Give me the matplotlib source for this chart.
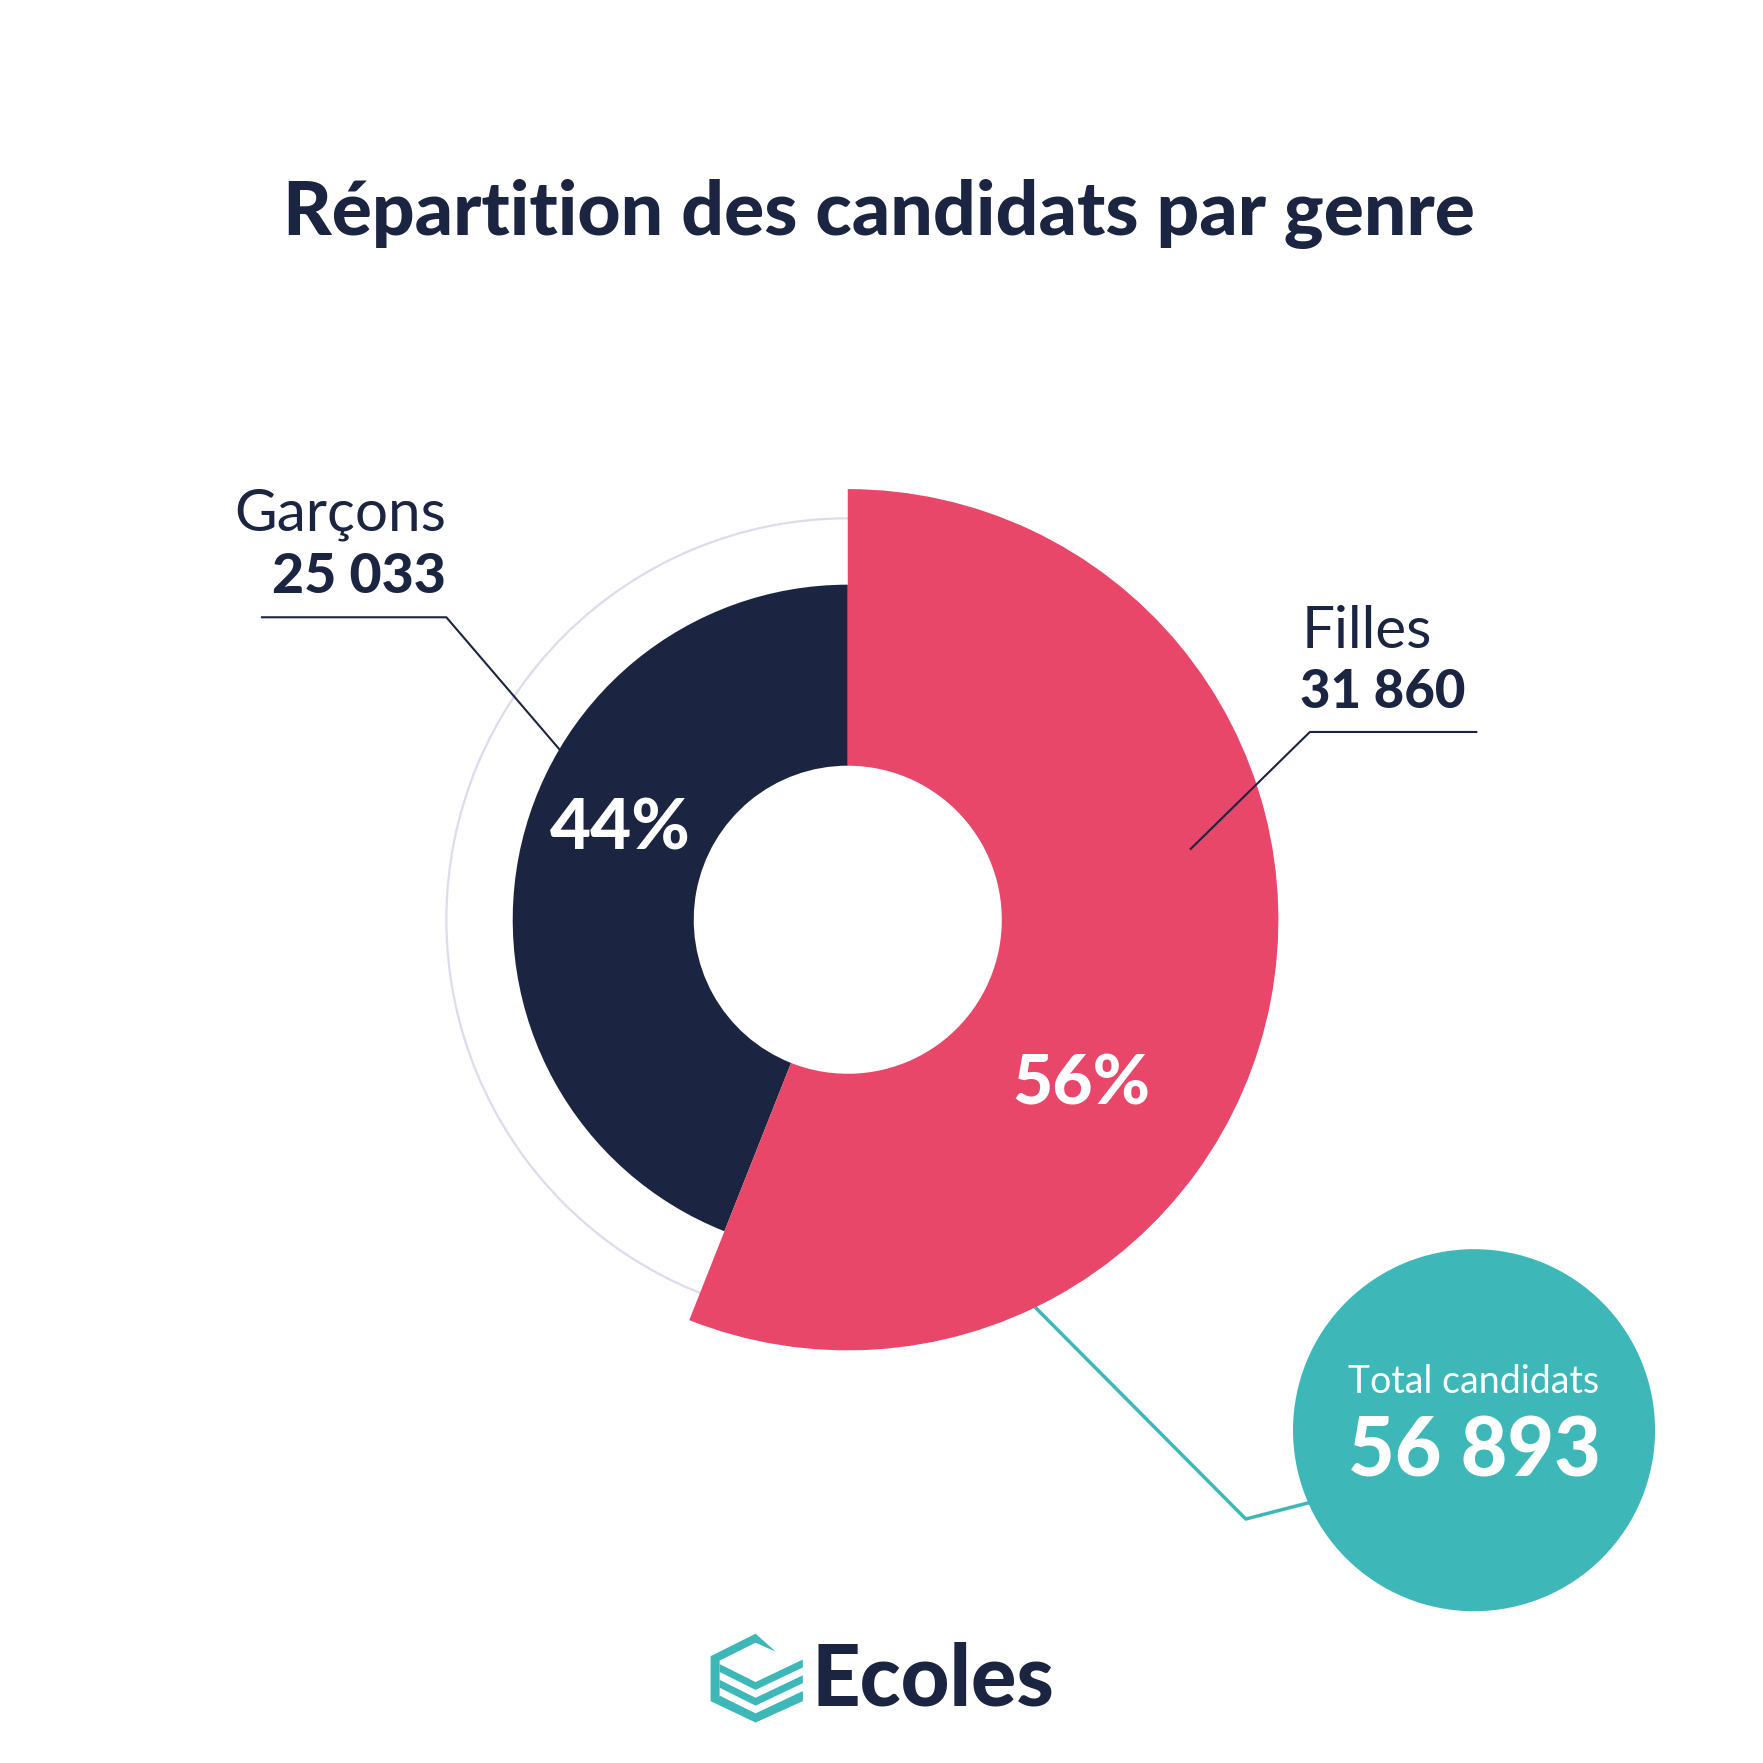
import matplotlib.pyplot as plt
from matplotlib.patches import Wedge, Circle, Polygon

# data
labels = ["Garçons", "Filles"]
counts = [25033, 31860]
count_labels = ["25 033", "31 860"]
pct_labels = ["44%", "56%"]
total_label = "56 893"
title = "Répartition des candidats par genre"

NAVY = "#1b2541"
PINK = "#e8476a"
TEAL = "#3db7b7"
LAVENDER = "#dcdcef"

W = 1568  # working units (scaled to 1763 px)


def Y(y):
    return W - y


plt.rcParams['font.family'] = ['Lato', 'DejaVu Sans']

fig = plt.figure(figsize=(17.63, 17.63), dpi=100)
ax = fig.add_axes([0, 0, 1, 1])
ax.set_xlim(0, W)
ax.set_ylim(0, W)
ax.set_aspect('equal')
ax.axis('off')

cx, cy = 754, Y(818)
r_hole = 137

# faint ring behind
ax.add_patch(Circle((cx, cy), 357, fill=False, ec=LAVENDER, lw=1.6, zorder=1))

# angles from data
total = sum(counts)
ang_g = 360 * counts[0] / total
ang_f = 360 * counts[1] / total

# Garçons: counter-clockwise from the top
ax.add_patch(Wedge((cx, cy), 298, 90, 90 + ang_g, width=298 - r_hole,
                   fc=NAVY, ec='none', zorder=2))
# Filles: clockwise from the top, larger radius
ax.add_patch(Wedge((cx, cy), 383, 90 - ang_f, 90, width=383 - r_hole,
                   fc=PINK, ec='none', zorder=3))

# percentages
ax.text(552, Y(737), pct_labels[0], color='white', fontsize=51, fontweight='black',
        ha='center', va='center', zorder=5)
ax.text(962, Y(965), pct_labels[1], color='white', fontsize=50, fontweight='black',
        ha='center', va='center', zorder=5)

# title
ax.text(782, Y(190), title, color=NAVY, fontsize=54, fontweight='black',
        ha='center', va='center')

# Garçons label + leader
ax.text(397, Y(458), labels[0], color=NAVY, fontsize=42, ha='right', va='center')
ax.text(397, Y(513), count_labels[0], color=NAVY, fontsize=40, fontweight='black',
        ha='right', va='center')
ax.plot([233, 397, 498], [Y(549), Y(549), Y(667)], color=NAVY, lw=1.5, zorder=4)

# Filles label + leader
ax.text(1158, Y(562), labels[1], color=NAVY, fontsize=42, ha='left', va='center')
ax.text(1156, Y(616), count_labels[1], color=NAVY, fontsize=38, fontweight='black',
        ha='left', va='center')
ax.plot([1313, 1165, 1059], [Y(651), Y(651), Y(755)], color=NAVY, lw=1.5, zorder=4)

# total bubble
ax.plot([920, 1108, 1170], [Y(1162), Y(1351), Y(1335)], color=TEAL, lw=2.5, zorder=1)
ax.add_patch(Circle((1311, Y(1272)), 161, fc=TEAL, ec='none', zorder=2))
ax.text(1311, Y(1229), "Total candidats", color='white', fontsize=27,
        ha='center', va='center', zorder=5)
ax.text(1311, Y(1292), total_label, color='white', fontsize=58, fontweight='black',
        ha='center', va='center', zorder=5)

# logo
ax.add_patch(Polygon([(672, Y(1453)), (632, Y(1473)), (632, Y(1513)), (672, Y(1532)),
                      (714, Y(1513)), (714, Y(1505)), (672, Y(1524)), (640, Y(1509)),
                      (640, Y(1477)), (672, Y(1461)), (690, Y(1469))],
                     closed=True, fc=TEAL, ec='none'))
for dy in [0, 14, 28]:
    ax.add_patch(Polygon([(640, Y(1480 + dy)), (672, Y(1496 + dy)), (714, Y(1476 + dy)),
                          (714, Y(1483 + dy)), (672, Y(1503 + dy)), (640, Y(1487 + dy))],
                         closed=True, fc=TEAL, ec='none'))
ax.text(722, Y(1495), "Ecoles", color=NAVY, fontsize=61, fontweight='black',
        ha='left', va='center')

fig.savefig("out.png", dpi=100, facecolor='white')
